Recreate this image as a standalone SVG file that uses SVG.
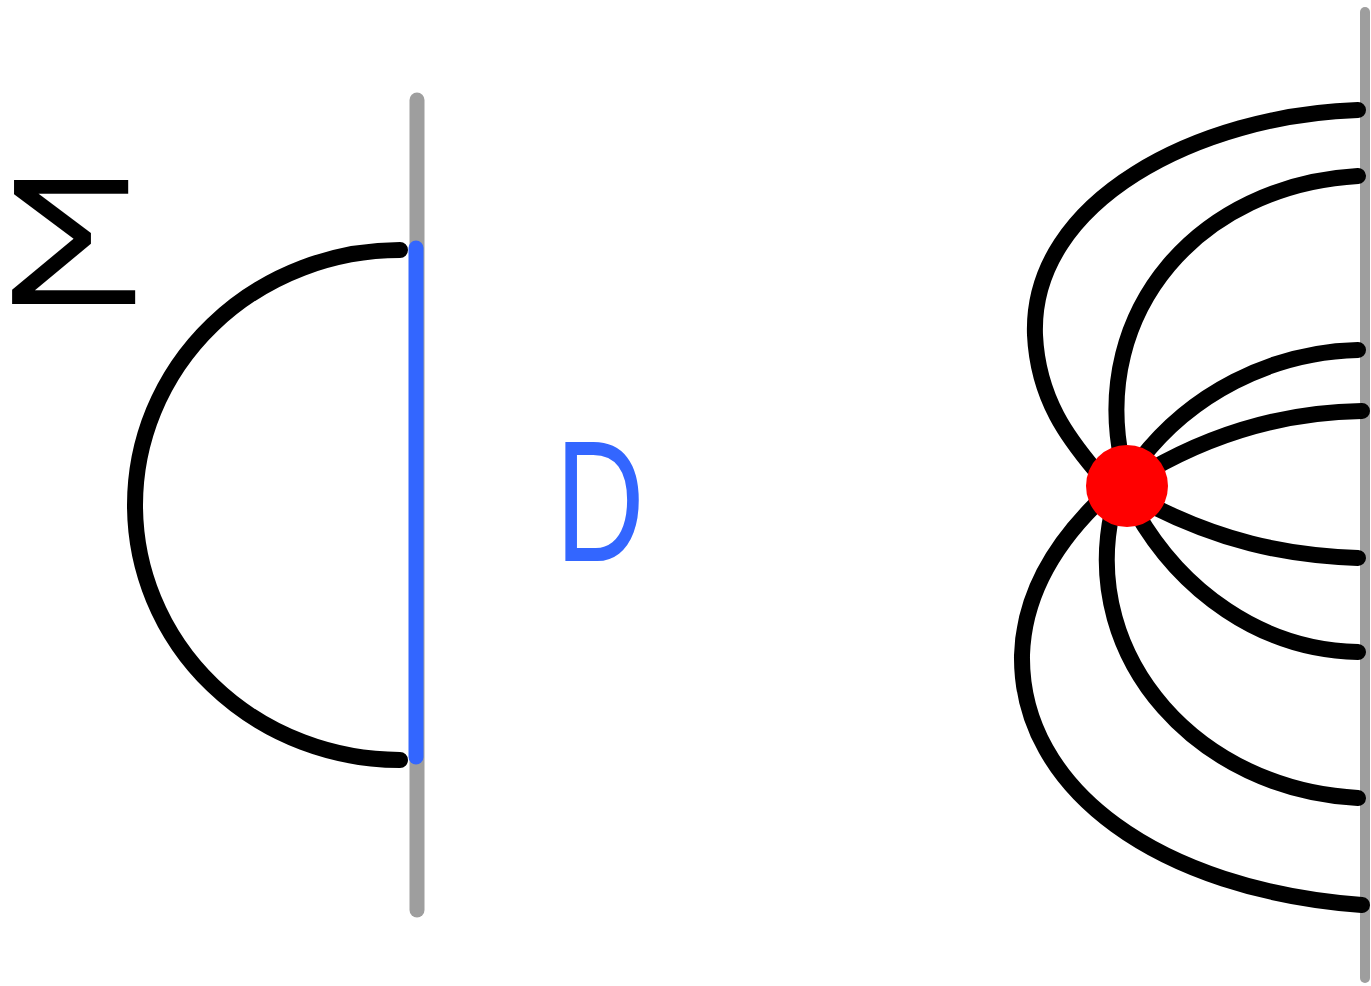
<svg xmlns="http://www.w3.org/2000/svg" width="1371" height="986" viewBox="0 0 1371 986">
<style>
.gray{stroke:#9e9e9e;stroke-linecap:round;fill:none}
.blk{stroke:#000;stroke-width:16;stroke-linecap:round;fill:none}
.lbl{font-family:"Liberation Sans",Arial,sans-serif}
</style>
<rect width="1371" height="986" fill="#fff"/>
<g id="boundary-left">
<line class="gray" x1="417" y1="100" x2="417" y2="910" stroke-width="15"/>
<line x1="416" y1="248" x2="416" y2="757" stroke="#3366ff" stroke-width="15" stroke-linecap="round"/>
</g>
<g id="boundary-right">
<line class="gray" x1="1365" y1="12" x2="1365" y2="978" stroke-width="10"/>
</g>
<g id="connectors">
<path class="blk" d="M400,250 A265,255 0 0 0 400,760"/>
<path class="blk" d="M1358,110 C1200,115 1030,200 1035,335 C1038,400 1070,440 1095,470"/>
<path class="blk" d="M1358,176 C1200,185 1090,310 1122,462"/>
<path class="blk" d="M1358,350 C1270,352 1190,395 1140,460"/>
<path class="blk" d="M1362,411 C1290,412 1220,430 1150,470"/>
<path class="blk" d="M1358,558 C1280,555 1220,540 1150,505"/>
<path class="blk" d="M1358,652 C1260,650 1180,590 1135,510"/>
<path class="blk" d="M1358,798 C1200,790 1080,660 1112,512"/>
<path class="blk" d="M1362,905 C1160,890 1020,790 1022,655 C1024,590 1060,540 1095,505"/>
</g>
<g id="charge">
<circle cx="1127" cy="486" r="41" fill="#ff0000"/>
</g>
<g id="label-sigma">
<text class="lbl" transform="translate(72,304) scale(1.3,1)" x="0" y="0" font-size="180" text-anchor="middle" fill="#000">Σ</text>
</g>
<g id="label-D">
<text class="lbl" transform="translate(600,561) scale(0.72,1)" x="0" y="0" font-size="172" text-anchor="middle" fill="#3366ff">D</text>
</g>
</svg>
